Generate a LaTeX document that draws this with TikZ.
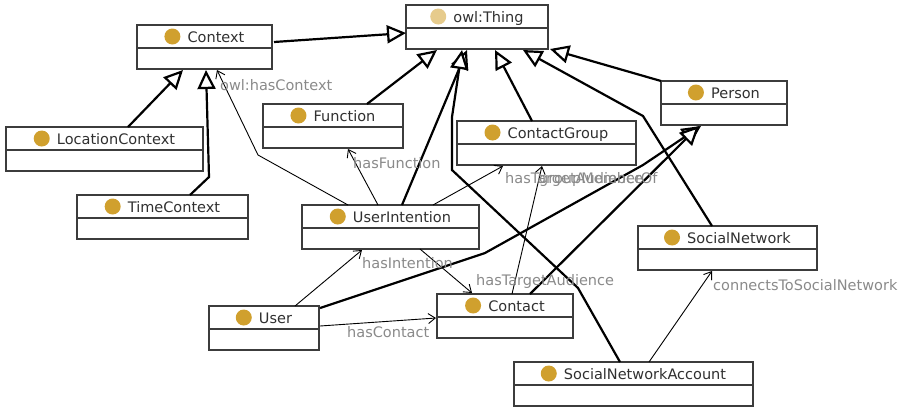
\documentclass[tikz,border=0pt]{standalone}
\usepackage{fontspec}
\setmainfont{DejaVu Sans}
\usetikzlibrary{arrows.meta,calc}

\definecolor{classgold}{HTML}{D0A02E}
\definecolor{thinggold}{HTML}{E6CB8C}
\definecolor{boxline}{HTML}{3C3C3C}
\definecolor{classtxt}{HTML}{303030}
\definecolor{proptxt}{HTML}{8A8A8A}

\tikzset{
  classbox/.style={draw=boxline, line width=1.3pt, fill=white, inner sep=0pt, outer sep=0pt, anchor=north west},
  divider/.style={draw=boxline, line width=1.3pt},
  classname/.style={font=\fontsize{14.5}{16}\selectfont, text=classtxt, inner sep=0pt, anchor=base},
  proplabel/.style={font=\fontsize{14.5}{16}\selectfont, text=proptxt, inner sep=0pt, anchor=base west},
  isa/.style={line width=2.2pt, -{Triangle[length=19pt,width=18pt,fill=white]}},
  prop/.style={line width=0.9pt, -{Straight Barb[length=7pt,width=10pt]}},
}

% class box: name, left, top, right, bottom, dot colour, title
\newcommand\owlclass[7]{%
  \node[classbox, minimum width={(#4-#2)*1pt}, minimum height={(#5-#3)*1pt}] (#1) at (#2,#3) {};
  \draw[divider] ([yshift=-23pt]#1.north west) -- ([yshift=-23pt]#1.north east);
  \node[classname] (#1-name) at ([xshift=11.5pt,yshift=-17.5pt]#1.north) {#7};
  \fill[#6] ([xshift=-15pt,yshift=6pt]#1-name.base west) circle (8pt);
}

\begin{document}
\begin{tikzpicture}[x=1pt,y=-1pt]
\fill[white] (0,0) rectangle (902,408);
\useasboundingbox (0,0) rectangle (902,408);

% classes
\owlclass{thing}{406}{5}{548}{49}{thinggold}{owl:Thing}
\owlclass{ctx}{137}{25}{272}{69}{classgold}{Context}
\owlclass{loc}{6}{127}{203}{171}{classgold}{LocationContext}
\owlclass{time}{77}{195}{248}{239}{classgold}{TimeContext}
\owlclass{func}{263}{104}{403}{148}{classgold}{Function}
\owlclass{ui}{302}{205}{479}{249}{classgold}{UserIntention}
\owlclass{cg}{457}{121}{636}{165}{classgold}{ContactGroup}
\owlclass{person}{661}{81}{787}{125}{classgold}{Person}
\owlclass{user}{209}{306}{319}{350}{classgold}{User}
\owlclass{contact}{437}{294}{573}{338}{classgold}{Contact}
\owlclass{sn}{638}{226}{817}{270}{classgold}{SocialNetwork}
\owlclass{sna}{514}{362}{753}{406}{classgold}{SocialNetworkAccount}

% subclass links
\draw[isa] ($(ctx.north west)+(137,17)$) -- ($(thing.north west)+(0,28)$);
\draw[isa] ($(loc.north west)+(122,0)$) -- ($(ctx.north west)+(46,45)$);
\draw[isa] ($(time.north west)+(113,0)$) -- (209,177) -- ($(ctx.north west)+(69,45)$);
\draw[isa] ($(func.north west)+(104,0)$) -- ($(thing.north west)+(31,45)$);
\draw[isa] ($(ui.north west)+(100,0)$) -- ($(thing.north west)+(61,45)$);
\draw[isa] ($(sna.north west)+(106,0)$) -- (578,288) -- (452,170) -- (452,117) -- ($(thing.north west)+(56,45)$);
\draw[isa] ($(cg.north west)+(75,0)$) -- ($(thing.north west)+(89,45)$);
\draw[isa] (person.north west) -- ([xshift=2pt]thing.south east);
\draw[isa] ($(sn.north west)+(74,0)$) -- (643,116) -- ($(thing.north west)+(117,45)$);
\draw[isa] ($(user.north west)+(111,2)$) -- (485,253) -- (643,165) -- ($(person.north west)+(40,45)$);
\draw[isa] ($(contact.north west)+(93,0)$) -- ($(person.north west)+(38,45)$);

% object properties
\draw[prop] ($(ui.north west)+(46,0)$) -- (258,155) -- ($(ctx.north west)+(80,45)$);
\draw[prop] ($(ui.north west)+(76,0)$) -- ($(func.north west)+(85,45)$);
\draw[prop] ($(ui.north west)+(131,0)$) -- ($(cg.north west)+(46,45)$);
\draw[prop] ($(contact.north west)+(75,0)$) -- ($(cg.north west)+(85,45)$);
\draw[prop] ($(ui.north west)+(118,44)$) -- ($(contact.north west)+(35,-1)$);
\draw[prop] ($(user.north west)+(86,0)$) -- ($(ui.north west)+(60,45)$);
\draw[prop] ($(user.north west)+(111,20)$) -- ($(contact.north west)+(-1,24)$);
\draw[prop] ($(sna.north west)+(135,0)$) -- ($(sn.north west)+(74,45)$);

% property labels
\node[proplabel] (lbl-ctx) at (220,90) {owl:hasContext};
\node[proplabel] (lbl-func) at (353,168) {hasFunction};
\node[proplabel] (lbl-aud1) at (505,183) {hasTargetAudience};
\node[proplabel] (lbl-member) at (539,183) {groupMemberOf};
\node[proplabel] (lbl-aud2) at (476,285) {hasTargetAudience};
\node[proplabel] (lbl-int) at (362,268) {hasIntention};
\node[proplabel] (lbl-con) at (347,337) {hasContact};
\node[proplabel] (lbl-sn) at (713,290) {connectsToSocialNetwork};
\end{tikzpicture}
\end{document}
